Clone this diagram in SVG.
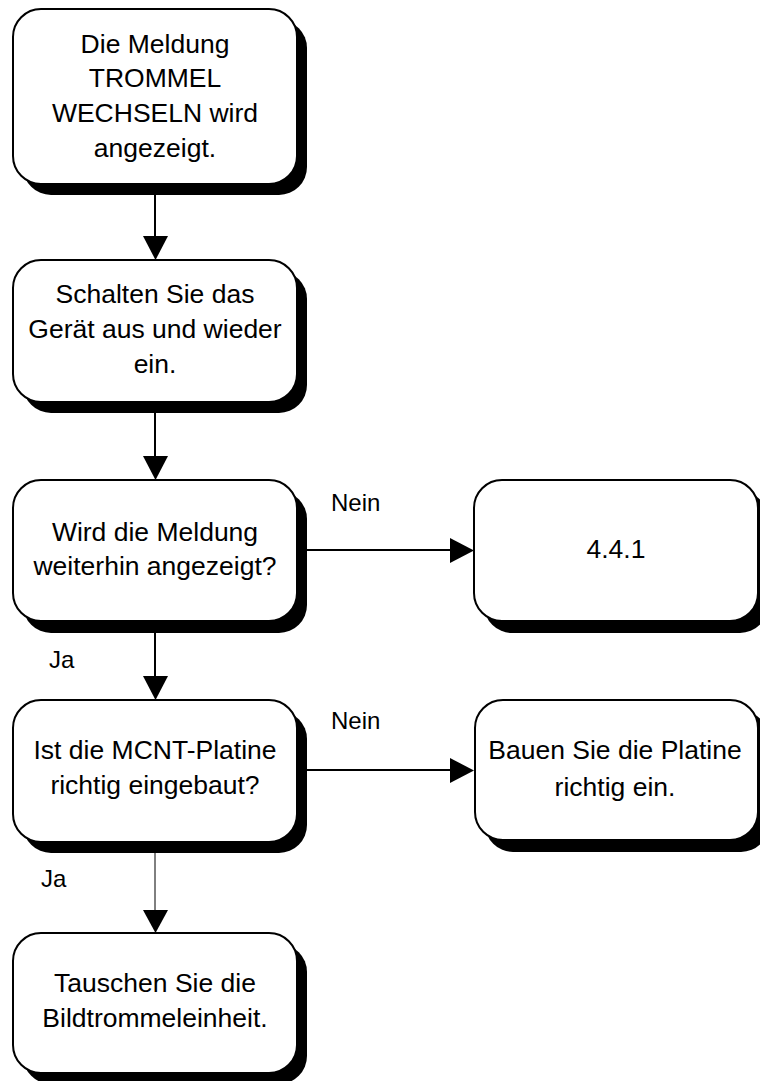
<svg xmlns="http://www.w3.org/2000/svg" width="760" height="1081" viewBox="0 0 760 1081">
<style>
.box{fill:#fff;stroke:#000;stroke-width:2}
.shadow{fill:#000}
.t{font-family:"Liberation Sans",Arial,sans-serif;font-size:26.5px;fill:#000;text-anchor:middle}
.lbl{font-family:"Liberation Sans",Arial,sans-serif;font-size:24px;fill:#000}
.c{stroke:#000;stroke-width:2;fill:none}
.thin{stroke:#000;stroke-width:1;fill:none}
.ah{fill:#000}
</style>
<rect width="760" height="1081" fill="#fff"/>
<g id="connectors">
<line class="c" x1="155" y1="194" x2="155" y2="240"/>
<polygon class="ah" points="143,236 168,236 155.5,260"/>
<line class="c" x1="155" y1="413" x2="155" y2="460"/>
<polygon class="ah" points="143,456 168,456 155.5,480"/>
<line class="c" x1="307" y1="550" x2="455" y2="550"/>
<polygon class="ah" points="450,538 450,563 474,550.5"/>
<text class="lbl" x="331" y="511">Nein</text>
<line class="c" x1="155" y1="633" x2="155" y2="680"/>
<polygon class="ah" points="143,676 168,676 155.5,700"/>
<text class="lbl" x="49" y="668">Ja</text>
<line class="c" x1="307" y1="770" x2="455" y2="770"/>
<polygon class="ah" points="450,758 450,783 474,770.5"/>
<text class="lbl" x="331" y="729">Nein</text>
<line class="thin" x1="155" y1="852" x2="155" y2="915"/>
<polygon class="ah" points="143,910 168,910 155.5,933"/>
<text class="lbl" x="41" y="887">Ja</text>
</g>
<g id="n1">
<rect class="shadow" x="23" y="20" width="284" height="175" rx="28"/>
<rect class="box" x="13" y="9" width="284" height="175" rx="28"/>
<text class="t" x="155" y="53">Die Meldung</text>
<text class="t" x="155" y="87">TROMMEL</text>
<text class="t" x="155" y="122">WECHSELN wird</text>
<text class="t" x="155" y="157">angezeigt.</text>
</g>
<g id="n2">
<rect class="shadow" x="23" y="271" width="284" height="142" rx="28"/>
<rect class="box" x="13" y="260" width="284" height="142" rx="28"/>
<text class="t" x="155" y="303">Schalten Sie das</text>
<text class="t" x="155" y="338">Gerät aus und wieder</text>
<text class="t" x="155" y="373">ein.</text>
</g>
<g id="n3">
<rect class="shadow" x="23" y="491" width="284" height="142" rx="28"/>
<rect class="box" x="13" y="480" width="284" height="141" rx="28"/>
<text class="t" x="155" y="541">Wird die Meldung</text>
<text class="t" x="155" y="575">weiterhin angezeigt?</text>
</g>
<g id="n4">
<rect class="shadow" x="484" y="491" width="284" height="142" rx="28"/>
<rect class="box" x="474" y="480" width="284" height="141" rx="28"/>
<text class="t" x="616" y="558">4.4.1</text>
</g>
<g id="n5">
<rect class="shadow" x="23" y="711" width="284" height="142" rx="28"/>
<rect class="box" x="13" y="700" width="284" height="142" rx="28"/>
<text class="t" x="155" y="759">Ist die MCNT-Platine</text>
<text class="t" x="155" y="794">richtig eingebaut?</text>
</g>
<g id="n6">
<rect class="shadow" x="485" y="711" width="284" height="141" rx="28"/>
<rect class="box" x="475" y="700" width="283" height="140" rx="28"/>
<text class="t" x="615" y="759">Bauen Sie die Platine</text>
<text class="t" x="615" y="796">richtig ein.</text>
</g>
<g id="n7">
<rect class="shadow" x="23" y="944" width="284" height="140" rx="28"/>
<rect class="box" x="13" y="933" width="284" height="140" rx="28"/>
<text class="t" x="155" y="992">Tauschen Sie die</text>
<text class="t" x="155" y="1027">Bildtrommeleinheit.</text>
</g>
</svg>
